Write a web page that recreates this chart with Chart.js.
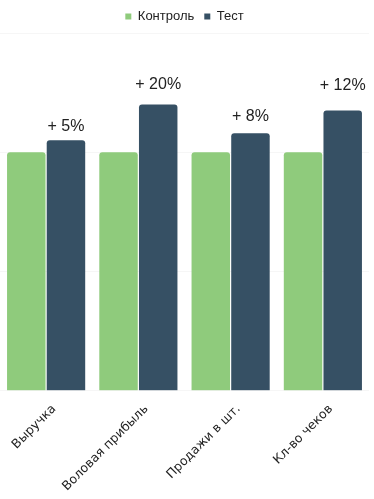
<!DOCTYPE html>
<html>
<head>
<meta charset="utf-8">
<script src="https://cdn.jsdelivr.net/npm/chart.js@4"></script>
<style>
  html, body { margin: 0; padding: 0; background: #fff; }
  #wrap { width: 374px; height: 499px; }
</style>
</head>
<body>
<div id="wrap"><canvas id="myChart"></canvas></div>
<script>
var categories = ['Выручка', 'Воловая прибыль', 'Продажи в шт.', 'Кл-во чеков'];
var control = [100, 100, 100, 100];
var test = [105, 120, 108, 117.5];
var growthLabels = ['+ 5%', '+ 20%', '+ 8%', '+ 12%'];
var labelGap = [14, 20, 17, 25];

var growthPlugin = {
  id: 'growth',
  afterDatasetsDraw: function (chart) {
    var c = chart.ctx;
    var meta = chart.getDatasetMeta(1);
    c.save();
    c.font = '16px "Liberation Sans", Arial, sans-serif';
    c.fillStyle = '#222';
    c.textAlign = 'center';
    c.textBaseline = 'middle';
    meta.data.forEach(function (bar, i) {
      c.fillText(growthLabels[i], bar.x, bar.y - labelGap[i]);
    });
    c.restore();
  }
};

var ctx = document.getElementById('myChart').getContext('2d');
var myChart = new Chart(ctx, {
  type: 'bar',
  data: {
    labels: categories,
    datasets: [{
      label: 'Контроль',
      data: control,
      backgroundColor: '#8fcb7c',
      borderRadius: { topLeft: 3, topRight: 3 },
      borderSkipped: 'bottom',
      categoryPercentage: 0.86,
      barPercentage: 0.97
    }, {
      label: 'Тест',
      data: test,
      backgroundColor: '#365064',
      borderRadius: { topLeft: 3, topRight: 3 },
      borderSkipped: 'bottom',
      categoryPercentage: 0.86,
      barPercentage: 0.97
    }]
  },
  options: {
    responsive: true,
    maintainAspectRatio: false,
    animation: false,
    layout: { padding: { left: 0, right: 5, top: 0, bottom: 2 } },
    plugins: {
      legend: {
        position: 'top',
        labels: {
          usePointStyle: true,
          pointStyle: 'rect',
          boxWidth: 6,
          boxHeight: 6,
          padding: 10,
          color: '#222',
          font: { family: '"Liberation Sans", Arial, sans-serif', size: 13 }
        }
      },
      tooltip: { enabled: false }
    },
    scales: {
      x: {
        grid: { display: false },
        border: { display: false },
        afterFit: function (scale) {
          // rotated first label would otherwise push the plot to the right
          scale.paddingLeft = 0;
        },
        ticks: {
          maxRotation: 45,
          minRotation: 45,
          labelOffset: 8,
          color: '#222',
          font: { family: '"DejaVu Sans", sans-serif', size: 12.5 }
        }
      },
      y: {
        min: 0,
        max: 150,
        ticks: { display: false, stepSize: 50 },
        grid: { color: '#f6f6f6', drawTicks: false },
        border: { display: false }
      }
    }
  },
  plugins: [growthPlugin]
});
</script>
</body>
</html>
